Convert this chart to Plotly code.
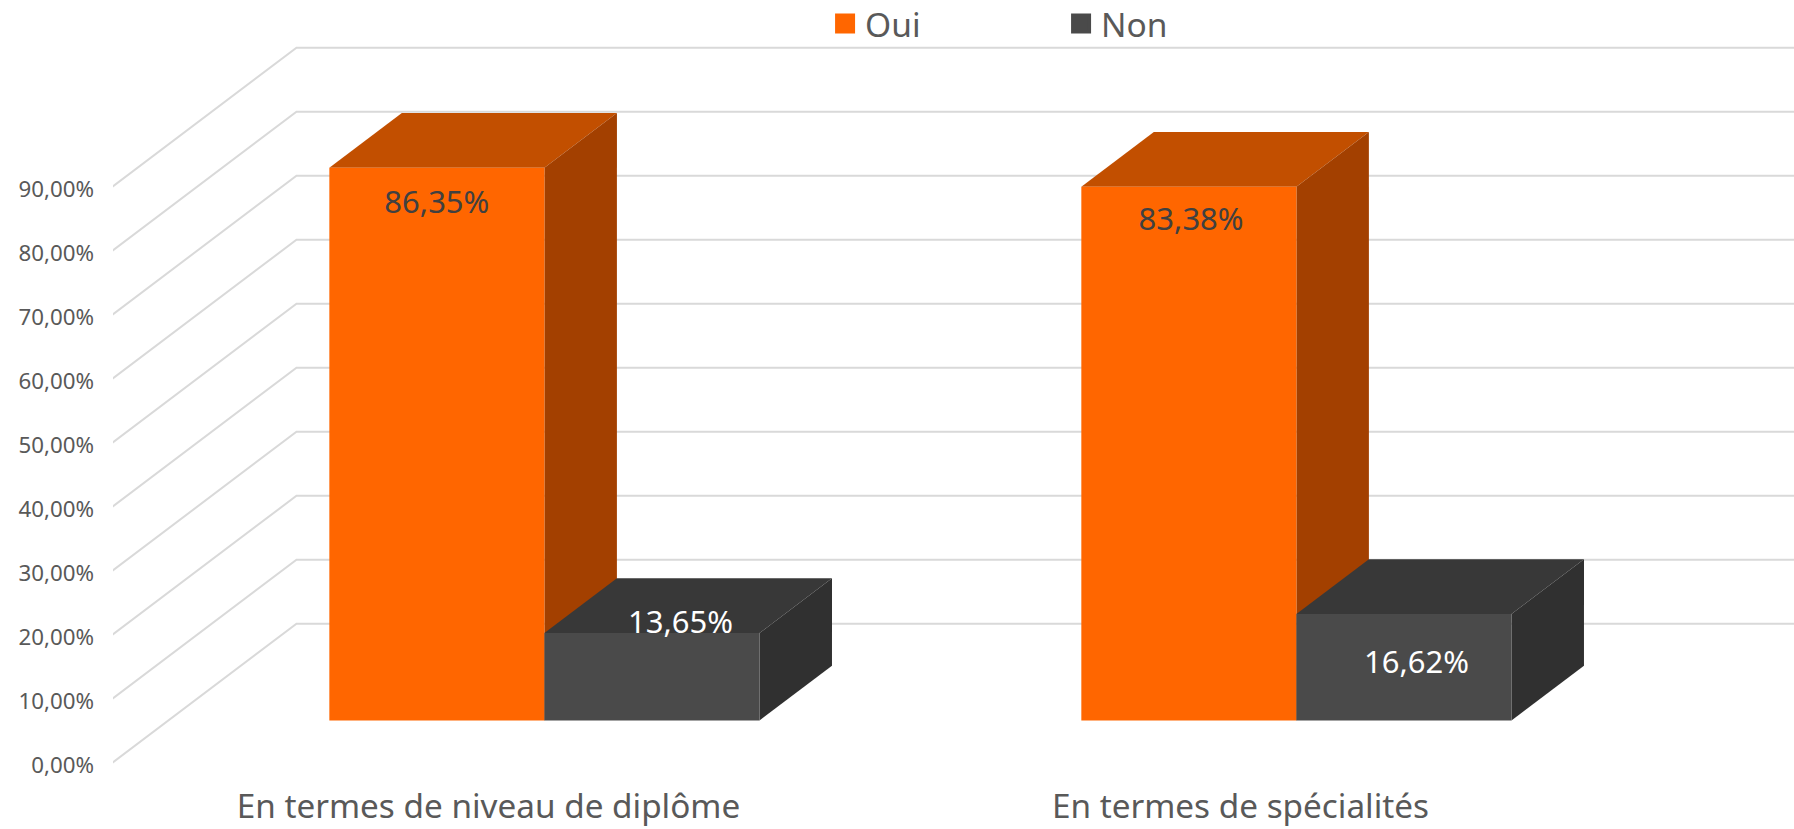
import plotly.graph_objects as go

categories = ["En termes de niveau de diplôme", "En termes de spécialités"]
oui = [86.35, 83.38]
non = [13.65, 16.62]
y_ticks = [0, 10, 20, 30, 40, 50, 60, 70, 80, 90]

# label nudges (x in category units, y in % units), relative to the top centre of the bar front
oui_label_nudge = [(0, -5.9), (0.003, -5.55)]
non_label_nudge = [(0.038, 1.2), (0.0167, -7.95)]

FONT = "Noto Sans"
GRID = "#d9d9d9"
TXT = "#595959"
DX = 0.2447      # full-depth shift on x, category units
DV = 21.7        # full-depth shift on y, % units
D0, D1 = 0.304, 0.698   # bar depth start/end
BAR_W = 0.286
OUI = dict(front="#FF6600", top="#C24F00", side="#A34000")
NON = dict(front="#4A4A4A", top="#383838", side="#303030")


def P(x, v, d):
    return x + DX * d, v + DV * d


def poly(fig, pts, color):
    fig.add_trace(go.Scatter(x=[p[0] for p in pts] + [pts[0][0]], y=[p[1] for p in pts] + [pts[0][1]],
                             mode="lines", fill="toself", fillcolor=color, line=dict(width=0, color=color),
                             showlegend=False, hoverinfo="skip"))


def box(fig, xl, v, pal):
    xr = xl + BAR_W
    poly(fig, [P(xl, v, D0), P(xr, v, D0), P(xr, v, D1), P(xl, v, D1)], pal["top"])
    poly(fig, [P(xr, 0, D0), P(xr, v, D0), P(xr, v, D1), P(xr, 0, D1)], pal["side"])
    poly(fig, [P(xl, 0, D0), P(xr, 0, D0), P(xr, v, D0), P(xl, v, D0)], pal["front"])


def fmt(v):
    return f"{v:.2f}".replace(".", ",") + "%"


fig = go.Figure()
for t in y_ticks:
    a, b, c = P(0, t, 0), P(0, t, 1), P(2.3, t, 1)
    fig.add_trace(go.Scatter(x=[a[0], b[0], c[0]], y=[a[1], b[1], c[1]], mode="lines",
                             line=dict(color=GRID, width=2), showlegend=False, hoverinfo="skip"))

for i in range(len(categories)):
    box(fig, i + 0.5 - BAR_W, oui[i], OUI)
    box(fig, i + 0.5, non[i], NON)

for vals, nudges, off, col in [(oui, oui_label_nudge, -BAR_W / 2, "#404040"), (non, non_label_nudge, BAR_W / 2, "#ffffff")]:
    xs, ys, tx = [], [], []
    for i, v in enumerate(vals):
        px, pv = P(i + 0.5 + off, v, D0)
        xs.append(px + nudges[i][0])
        ys.append(pv + nudges[i][1])
        tx.append(fmt(v))
    fig.add_trace(go.Scatter(x=xs, y=ys, text=tx, mode="text", textposition="middle center",
                             textfont=dict(family=FONT, size=31, color=col), showlegend=False, hoverinfo="skip"))

for name, col in [("Oui", OUI["front"]), ("Non", NON["front"])]:
    fig.add_trace(go.Scatter(x=[None], y=[None], name=name, mode="markers",
                             marker=dict(symbol="square", size=16, color=col, line=dict(width=4, color=col))))

fig.update_layout(
    width=1794, height=829, autosize=False,
    margin=dict(l=113, r=0, t=0, b=49, autoexpand=False),
    paper_bgcolor="white", plot_bgcolor="white",
    font=dict(family=FONT, color=TXT),
    legend=dict(orientation="h", x=0.4236, xanchor="left", y=1.006, yanchor="top",
                entrywidth=191, entrywidthmode="pixels", font=dict(size=33.5, color=TXT),
                bgcolor="rgba(0,0,0,0)", itemclick=False, itemdoubleclick=False),
    xaxis=dict(range=[0.0007, 2.2361], showgrid=False, zeroline=False, showline=False,
               tickmode="array", tickvals=[i + 0.5 for i in range(len(categories))], ticktext=categories,
               tickfont=dict(size=33.3, color=TXT), ticks="", ticklabelstandoff=4),
    yaxis=dict(range=[-2.71, 119.16], showgrid=False, zeroline=False, showline=False,
               tickmode="array", tickvals=y_ticks, ticktext=[fmt(t) for t in y_ticks],
               tickfont=dict(size=22.3, color=TXT), ticks="", ticklabelstandoff=18, ticklabelshift=3),
)
fig.write_html("out.html", config=dict(displayModeBar=False), post_script="document.body.style.margin='0';")
